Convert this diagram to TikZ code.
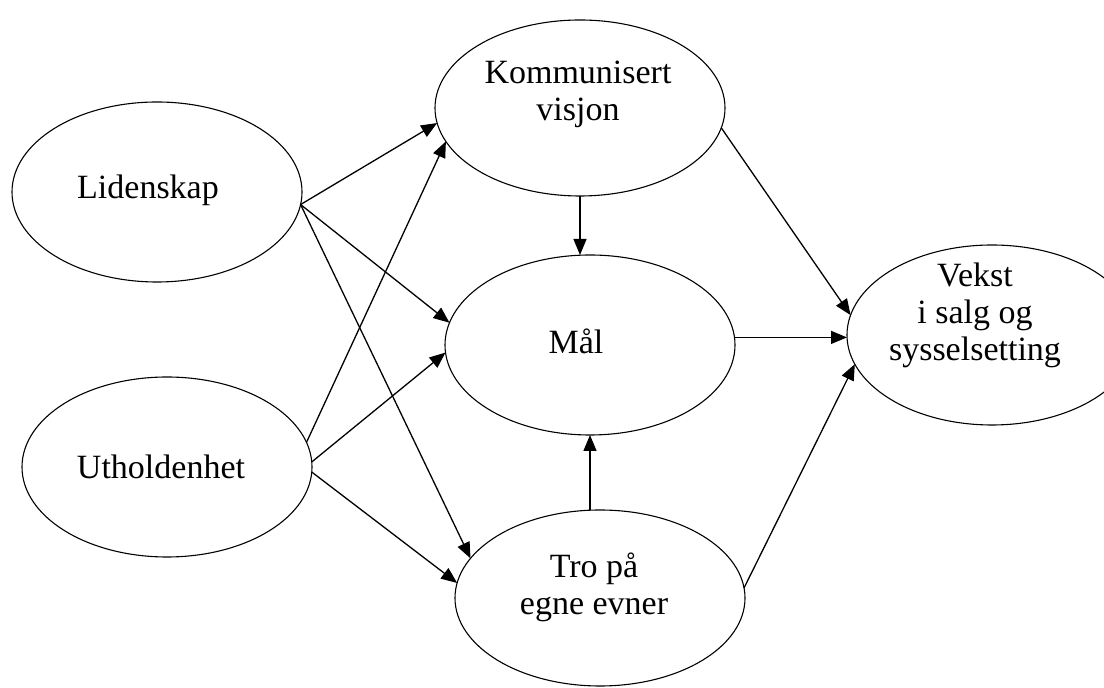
\documentclass[tikz,border=0pt]{standalone}
\usepackage{fontspec}
\setmainfont{Liberation Serif}
\usetikzlibrary{shapes.geometric,arrows.meta}
\begin{document}
\begin{tikzpicture}[x=0.5pt,y=-0.5pt,
  oval/.style={draw,ellipse,line width=0.55pt,minimum width=145pt,minimum height=90pt,inner sep=0pt,outer sep=0pt},
  txt/.style={align=center,font=\fontsize{17}{18.5}\selectfont,inner sep=0pt},
  conn/.style={line width=0.65pt,-{Triangle[length=8pt,width=6.5pt]}}]
\clip (0,0) rectangle (1104,688);
\fill[white] (0,0) rectangle (1104,688);
% ellipses
\node[oval] (l) at (157,192) {};
\node[oval] (u) at (167,467) {};
\node[oval,minimum height=88pt] (k) at (580,108) {};
\node[oval] (m) at (590,345) {};
\node[oval,minimum height=88pt] (t) at (600,598) {};
\node[oval] (v) at (992,335) {};
% texts
\node[txt] (lt) at (148,190) {Lidenskap};
\node[txt] (ut) at (161,467) {Utholdenhet};
\node[txt] (kt) at (578,94) {Kommunisert\\visjon};
\node[txt] (mt) at (576,341) {Mål};
\node[txt] (tt) at (594,587) {Tro på\\egne evner};
\node[txt] (vt) at (975,315) {Vekst\\i salg og\\sysselsetting};
% connectors
\draw[conn] (l.-5) -- (k.186);
\draw[conn] (u.10) -- (k.194);
\draw[conn] (l.-5) -- (m.171);
\draw[conn] (u.2) -- (m.183);
\draw[conn] (l.-5) -- (t.163);
\draw[conn] (u.-2) -- (t.174);
\draw[conn] (k.south) -- (k.south |- m.north);
\draw[conn] (m.south |- t.north) -- (m.south);
\draw[conn] (k.-8) -- (v.172);
\draw[conn] (m.3) -- (m.3 -| v.west);
\draw[conn] (t.4) -- (v.192);
\end{tikzpicture}
\end{document}
